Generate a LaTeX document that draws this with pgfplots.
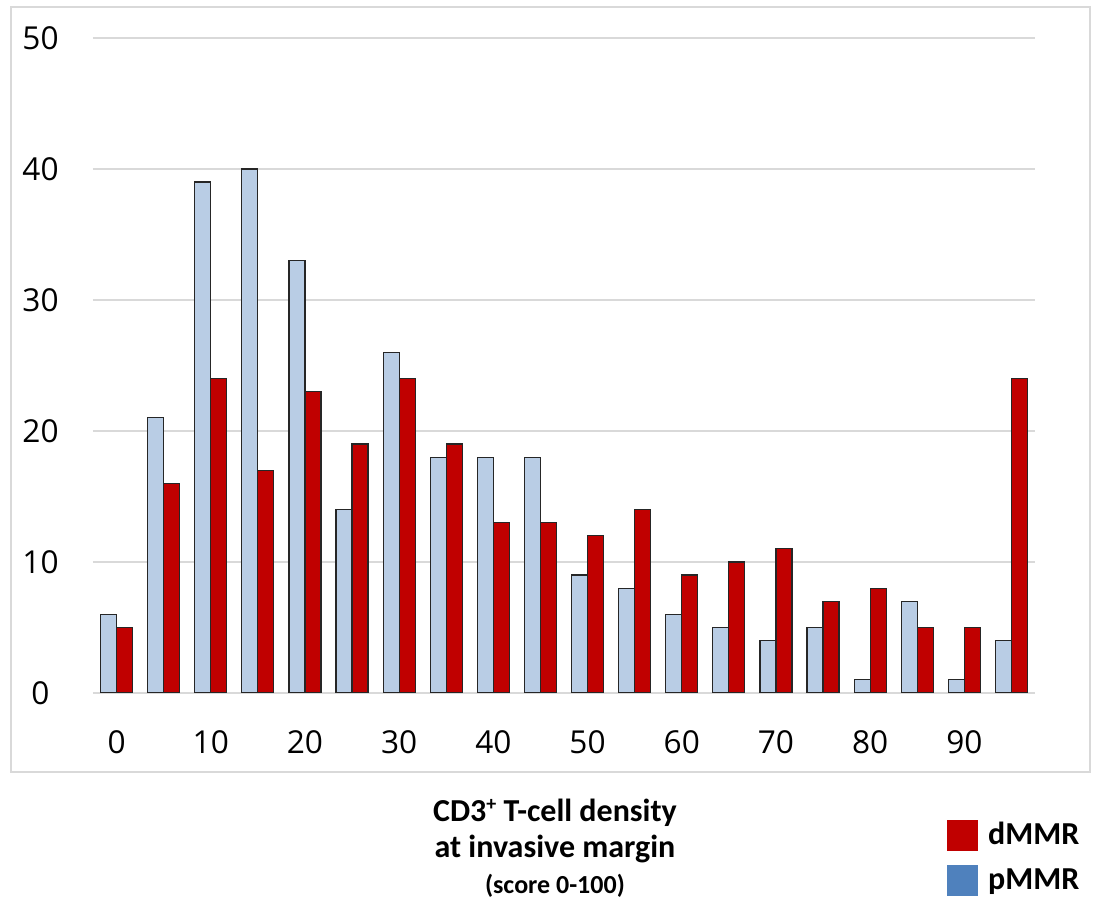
\documentclass[border=0pt]{standalone}
\usepackage{fontspec}
\setmainfont{Carlito}
\newfontfamily\tickfont{Open Sans}
\usepackage{pgfplots}
\pgfplotsset{compat=1.18}
\definecolor{pblue}{HTML}{B9CDE5}
\definecolor{dred}{HTML}{C00000}
\definecolor{legblue}{HTML}{4F81BD}
\definecolor{gridgray}{HTML}{D9D9D9}
\begin{document}
\begin{tikzpicture}[x=1pt,y=1pt]
\useasboundingbox (-46.5,-105.5) rectangle (502.5,346.5);
\draw[gridgray, line width=0.75pt] (-41,-39.5) rectangle (498.5,343);
\begin{axis}[
  at={(0,0)}, anchor=south west,
  width=471pt, height=327.5pt, scale only axis,
  xmin=-2.5, xmax=97.5, ymin=0, ymax=50,
  ytick={0,10,...,50}, xtick={0,10,...,90},
  ymajorgrids, major grid style={gridgray, line width=0.75pt},
  axis line style={draw=none}, major tick length=0pt,
  /pgf/number format/assume math mode=true,
  ticklabel style={font=\tickfont\fontsize{15.8}{18}\selectfont},
  yticklabel style={anchor=center, xshift=-26.25pt},
  xticklabel style={anchor=center, yshift=-24.5pt},
  xlabel={CD3\raisebox{0.7ex}{\fontsize{10}{10}\selectfont +} T-cell density\\at invasive margin\\{\fontsize{13}{15}\selectfont (score 0-100)}},
  xlabel style={at={(0.4904,-0.2366)}, anchor=center, align=center, font=\bfseries\fontsize{16}{18}\selectfont},
  legend style={at={(0.9066,-0.1908)}, anchor=north west, draw=none, fill=none,
    font=\bfseries\fontsize{16}{19}\selectfont, row sep=6.5pt, inner sep=0pt},
  legend cell align=left,
]
\addplot[ybar, fill=pblue, draw=black!85, line width=0.6pt, bar width=1.7, bar shift=-0.85, forget plot] coordinates {
(0,6) (5,21) (10,39) (15,40) (20,33) (25,14) (30,26) (35,18) (40,18) (45,18)
(50,9) (55,8) (60,6) (65,5) (70,4) (75,5) (80,1) (85,7) (90,1) (95,4)};
\addplot[ybar, fill=dred, draw=black!85, line width=0.6pt, bar width=1.7, bar shift=0.85, forget plot] coordinates {
(0,5) (5,16) (10,24) (15,17) (20,23) (25,19) (30,24) (35,19) (40,13) (45,13)
(50,12) (55,14) (60,9) (65,10) (70,11) (75,7) (80,8) (85,5) (90,5) (95,24)};
\addlegendimage{legend image code/.code={\fill[dred] (0pt,-7.5pt) rectangle (15pt,7.5pt); \path (18pt,0pt);}}
\addlegendentry{dMMR}
\addlegendimage{legend image code/.code={\fill[legblue] (0pt,-7.5pt) rectangle (15pt,7.5pt); \path (18pt,0pt);}}
\addlegendentry{pMMR}
\end{axis}
\end{tikzpicture}
\end{document}
